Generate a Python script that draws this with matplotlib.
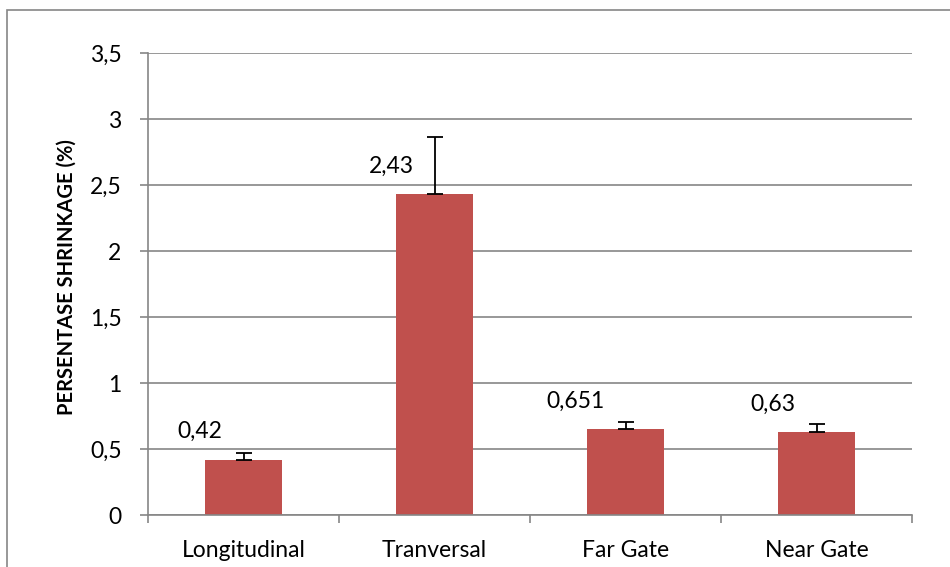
import matplotlib.pyplot as plt
from matplotlib.patches import Rectangle

plt.rcParams['font.family'] = ['Lato', 'DejaVu Sans']

# data
categories = ["Longitudinal", "Tranversal", "Far Gate", "Near Gate"]
shrinkage = [0.42, 2.43, 0.651, 0.63]
err_plus = [0.05, 0.43, 0.05, 0.06]
labels = ["0,42", "2,43", "0,651", "0,63"]
yticks = [0, 0.5, 1, 1.5, 2, 2.5, 3, 3.5]
ytick_labels = ["0", "0,5", "1", "1,5", "2", "2,5", "3", "3,5"]

grey = "#868686"
fs = 16.5

fig = plt.figure(figsize=(9.5, 5.67), dpi=100)
ax = fig.add_axes([148/950, 52/567, 764/950, 462/567])

# outer chart frame (right and bottom edges run off the picture)
fig.patches.append(Rectangle((7/950, -0.05), 1.0, 1 - 10/567 + 0.05,
                             transform=fig.transFigure,
                             fill=False, edgecolor=grey, linewidth=1.2))

x = list(range(len(categories)))
ax.bar(x, shrinkage, width=0.4, color="#C0504D", zorder=2)
ax.errorbar(x, shrinkage, yerr=[[0]*4, err_plus], fmt="none", ecolor="black",
            elinewidth=1.3, capsize=6, capthick=1.3, zorder=3)

# data labels
for xi, v, t in zip(x, shrinkage, labels):
    ax.annotate(t, xy=(xi, v), xytext=(-15, 20), textcoords="offset points",
                ha="right", va="center", fontsize=fs)

ax.set_xlim(-0.5, 3.5)
ax.set_ylim(0, 3.5)
ax.set_yticks(yticks)
ax.set_yticklabels(ytick_labels, fontsize=fs)
ax.set_xticks(x)
ax.set_xticklabels(categories, fontsize=fs)
ax.set_xticks([-0.5, 0.5, 1.5, 2.5, 3.5], minor=True)
ax.tick_params(axis="x", which="major", length=0, pad=18)
ax.tick_params(axis="x", which="minor", length=6, color=grey, width=1.2)
ax.tick_params(axis="y", length=6, color=grey, width=1.2, pad=13)

ax.grid(True, axis="y", color=grey, linewidth=1.2, zorder=0)
ax.set_axisbelow(True)
for s in ["top", "right"]:
    ax.spines[s].set_visible(False)
for s in ["left", "bottom"]:
    ax.spines[s].set_color(grey)
    ax.spines[s].set_linewidth(1.2)

ax.set_ylabel("PERSENTASE SHRINKAGE (%)", fontsize=14.5, fontweight="bold")
ax.yaxis.set_label_coords(-0.093, 0.515)

fig.savefig("out.png", dpi=100)
